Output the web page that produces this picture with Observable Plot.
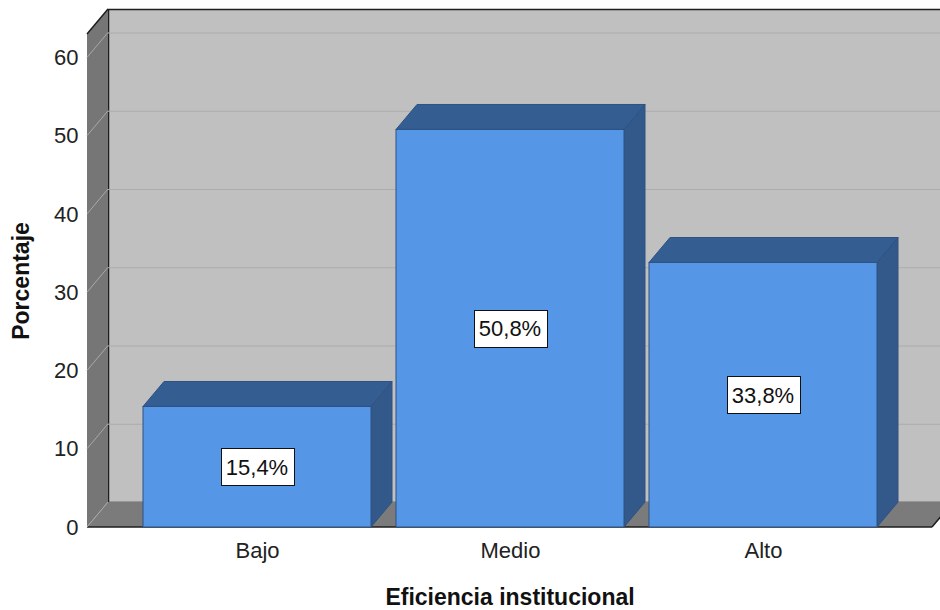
<!DOCTYPE html>
<html>
<head>
<meta charset="utf-8">
<script src="https://cdn.jsdelivr.net/npm/d3@7"></script>
<script src="https://cdn.jsdelivr.net/npm/@observablehq/plot@0.6"></script>
<style>
  html, body { margin: 0; padding: 0; background: #fff; }
</style>
</head>
<body>
<div id="chart"></div>
<script>
// Distribution of "Eficiencia institucional" levels (percent of respondents)
const categories = ["Bajo", "Medio", "Alto"];
const percentages = [15.4, 50.8, 33.8];
const valueLabels = ["15,4%", "50,8%", "33,8%"];
const yTicks = [0, 10, 20, 30, 40, 50, 60];
const xTitle = "Eficiencia institucional";
const yTitle = "Porcentaje";

const bars = categories.map((category, i) => ({category, value: percentages[i], label: valueLabels[i]}));

// Pseudo-3D depth of the box and the bars, in pixels
const DEPTH_X = 21;
const DEPTH_Y = -25;
const Y_MAX = 63;
const FONT = "'Liberation Sans', Arial, sans-serif";

const COLORS = {
  wall: "#c0c0c0",
  wallGrid: "#acacac",
  side: "#767676",
  sideGrid: "#a9a9a9",
  floor: "#7b7b7b",
  edge: "#1e1e1e",
  front: "#5596e6",
  top: "#345d91",
  right: "#33598b",
  barEdge: "#2e5283"
};

const SVG_NS = "http://www.w3.org/2000/svg";
function el(name, attrs) {
  const node = document.createElementNS(SVG_NS, name);
  for (const [k, v] of Object.entries(attrs)) node.setAttribute(k, v);
  return node;
}
function polygon(points, attrs) {
  return el("polygon", {points: points.map((p) => p.join(",")).join(" "), ...attrs});
}
function line(a, b, attrs) {
  return el("line", {x1: a[0], y1: a[1], x2: b[0], y2: b[1], ...attrs});
}

// Floor of the box, below the bars
function floorMark(index, {y}, values, {width, marginLeft, marginRight}) {
  const g = el("g", {});
  const x0 = marginLeft, x1 = width - marginRight, y0 = y(0);
  g.append(polygon([[x0, y0], [x0 + DEPTH_X, y0 + DEPTH_Y], [x1 + DEPTH_X, y0 + DEPTH_Y], [x1, y0]], {fill: COLORS.floor}));
  g.append(line([x0, y0], [x1, y0], {stroke: COLORS.edge, "stroke-width": 1.5}));
  g.append(line([x1, y0], [x1 + DEPTH_X, y0 + DEPTH_Y], {stroke: COLORS.edge, "stroke-width": 1.5}));
  return g;
}

// Left side wall with its diagonal grid lines
function leftWallMark(index, {y}, values, {marginLeft}) {
  const g = el("g", {});
  const x0 = marginLeft, yt = y(Y_MAX), yb = y(0);
  g.append(polygon([[x0, yt], [x0 + DEPTH_X, yt + DEPTH_Y], [x0 + DEPTH_X, yb + DEPTH_Y], [x0, yb]], {fill: COLORS.side}));
  for (const t of yTicks) {
    g.append(line([x0, y(t)], [x0 + DEPTH_X, y(t) + DEPTH_Y], {stroke: COLORS.sideGrid, "stroke-width": 1}));
  }
  g.append(line([x0, yt], [x0 + DEPTH_X, yt + DEPTH_Y], {stroke: COLORS.edge, "stroke-width": 1.5}));
  return g;
}

// Top and right faces of each bar
function barDepthMark(index, {x, y}) {
  const g = el("g", {});
  const bw = x.bandwidth();
  for (const d of bars) {
    const xa = x(d.category), xb = xa + bw, yt = y(d.value), yb = y(0);
    g.append(polygon([[xb, yt], [xb + DEPTH_X, yt + DEPTH_Y], [xb + DEPTH_X, yb + DEPTH_Y], [xb, yb]],
      {fill: COLORS.right, stroke: COLORS.barEdge, "stroke-width": 1}));
    g.append(polygon([[xa, yt], [xa + DEPTH_X, yt + DEPTH_Y], [xb + DEPTH_X, yt + DEPTH_Y], [xb, yt]],
      {fill: COLORS.top, stroke: COLORS.barEdge, "stroke-width": 1}));
  }
  return g;
}

// Boxed value labels in the middle of each bar's front face
const measureCtx = document.createElement("canvas").getContext("2d");
measureCtx.font = `22px ${FONT}`;
function valueLabelMark(index, {x, y}) {
  const g = el("g", {"font-family": FONT, "font-size": 22});
  const bw = x.bandwidth();
  for (const d of bars) {
    const cx = x(d.category) + bw / 2, cy = y(d.value / 2);
    const tw = measureCtx.measureText(d.label).width;
    const w = Math.round(tw + 11), h = 37;
    g.append(el("rect", {
      x: Math.round(cx - w / 2) + 0.5, y: Math.round(cy - h / 2) + 0.5, width: w, height: h,
      fill: "#fff", stroke: "#111", "stroke-width": 1
    }));
    const t = el("text", {x: cx, y: cy, dy: "0.36em", "text-anchor": "middle", fill: "#111"});
    t.textContent = d.label;
    g.append(t);
  }
  return g;
}

const chart = Plot.plot({
  width: 940,
  height: 610,
  marginLeft: 87,
  marginRight: 8,
  marginTop: 34,
  marginBottom: 83,
  style: {fontFamily: FONT, background: "#fff", color: "#222"},
  x: {domain: categories, paddingInner: 0.1, paddingOuter: 0.217},
  y: {domain: [0, Y_MAX]},
  marks: [
    Plot.frame({fill: COLORS.wall, stroke: COLORS.edge, strokeWidth: 1.5, dx: DEPTH_X, dy: DEPTH_Y}),
    Plot.gridY(yTicks, {stroke: COLORS.wallGrid, strokeOpacity: 1, strokeWidth: 1.2, dx: DEPTH_X, dy: DEPTH_Y}),
    floorMark,
    leftWallMark,
    barDepthMark,
    Plot.barY(bars, {x: "category", y: "value", fill: COLORS.front, stroke: COLORS.barEdge, strokeWidth: 1}),
    valueLabelMark,
    Plot.axisY(yTicks, {tickSize: 0, tickPadding: 9, fontSize: 22, fill: "#222", label: null}),
    Plot.axisX({tickSize: 0, tickPadding: 15, fontSize: 22, fill: "#222", label: null}),
    Plot.text([yTitle], {text: (d) => d, frameAnchor: "left", textAnchor: "middle", lineAnchor: "middle", rotate: -90, dx: -66, fontSize: 23, fontWeight: "bold", fill: "#111"}),
    Plot.text([xTitle], {text: (d) => d, frameAnchor: "bottom", textAnchor: "middle", lineAnchor: "middle", dy: 70, fontSize: 23, fontWeight: "bold", fill: "#111"})
  ]
});

document.getElementById("chart").append(chart);
</script>
</body>
</html>
